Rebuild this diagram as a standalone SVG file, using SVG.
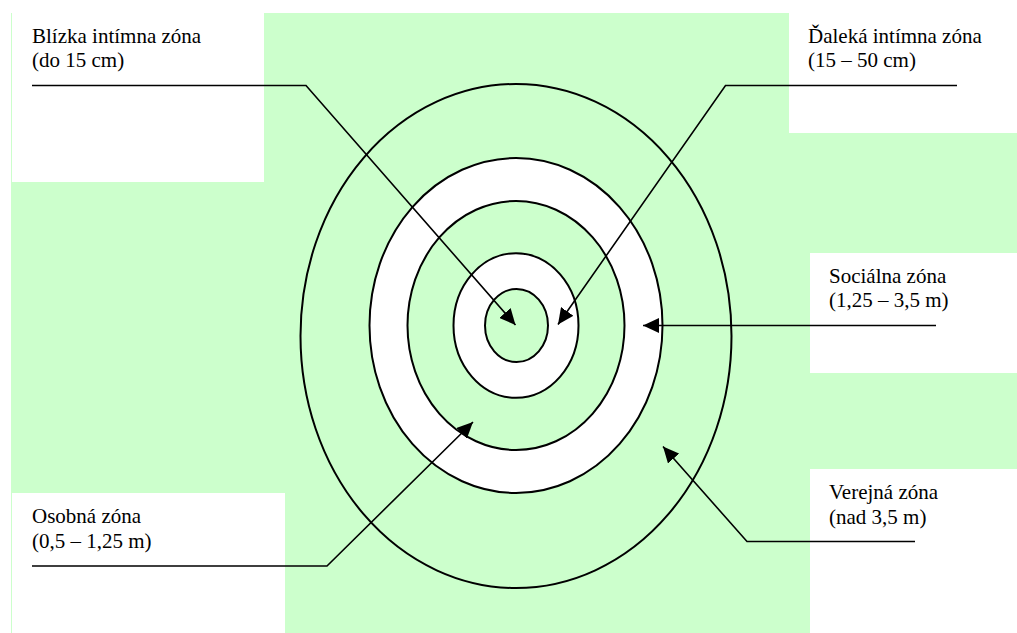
<svg xmlns="http://www.w3.org/2000/svg" width="1017" height="633" viewBox="0 0 1017 633">
<style>
.bg{fill:#CCFFCC}
.box{fill:#FFFFFF}
.ring{stroke:#000;stroke-width:2}
.g{fill:#CCFFCC}
.w{fill:#FFFFFF}
.lbl{font-family:"Liberation Serif","Times New Roman",serif;font-size:21px;fill:#000}
.con{fill:none;stroke:#000;stroke-width:1.6;marker-end:url(#ah)}
</style>
<defs>
<marker id="ah" markerUnits="userSpaceOnUse" markerWidth="16" markerHeight="15" refX="16" refY="7.5" orient="auto" viewBox="0 0 16 15">
<path d="M0,0 L16,7.5 L0,15 Z" fill="#000"/>
</marker>
</defs>
<g id="background">
<rect class="bg" x="11" y="13" width="1006" height="620"/>
<rect class="box" x="12" y="13" width="252" height="169"/>
<rect class="box" x="789" y="0" width="228" height="133"/>
<rect class="box" x="810" y="253" width="207" height="120"/>
<rect class="box" x="810" y="469" width="207" height="164"/>
<rect class="box" x="12" y="493" width="273" height="140"/>
</g>
<g id="zone-verejna">
<ellipse class="ring g" cx="516" cy="336" rx="215.5" ry="252"/>
</g>
<g id="zone-socialna">
<ellipse class="ring w" cx="516" cy="325.5" rx="146.5" ry="167.5"/>
</g>
<g id="zone-osobna">
<ellipse class="ring g" cx="516" cy="325.5" rx="108.5" ry="124.5"/>
</g>
<g id="zone-daleka-intimna">
<ellipse class="ring w" cx="516" cy="325.5" rx="62.5" ry="72.2"/>
</g>
<g id="zone-blizka-intimna">
<ellipse class="ring g" cx="516.5" cy="325.5" rx="31.5" ry="36.5"/>
</g>
<g id="connectors">
<polyline class="con" points="32,85.5 306,85.5 515.5,325"/>
<polyline class="con" points="957,85.5 725.5,85.5 558,324.5"/>
<polyline class="con" points="936,325.5 643,325.5"/>
<polyline class="con" points="32,566 327,566 473,422"/>
<polyline class="con" points="915,541.5 747,541.5 663,446.5"/>
</g>
<g id="label-blizka">
<text class="lbl" x="32" y="42.5">Blízka intímna zóna</text>
<text class="lbl" x="32" y="67">(do 15 cm)</text>
</g>
<g id="label-daleka">
<text class="lbl" x="808" y="42.5">Ďaleká intímna zóna</text>
<text class="lbl" x="808" y="67">(15 – 50 cm)</text>
</g>
<g id="label-socialna">
<text class="lbl" x="829" y="282.5">Sociálna zóna</text>
<text class="lbl" x="829" y="307">(1,25 – 3,5 m)</text>
</g>
<g id="label-verejna">
<text class="lbl" x="829" y="499">Verejná zóna</text>
<text class="lbl" x="829" y="523.5">(nad 3,5 m)</text>
</g>
<g id="label-osobna">
<text class="lbl" x="32" y="523">Osobná zóna</text>
<text class="lbl" x="32" y="547.5">(0,5 – 1,25 m)</text>
</g>
</svg>
